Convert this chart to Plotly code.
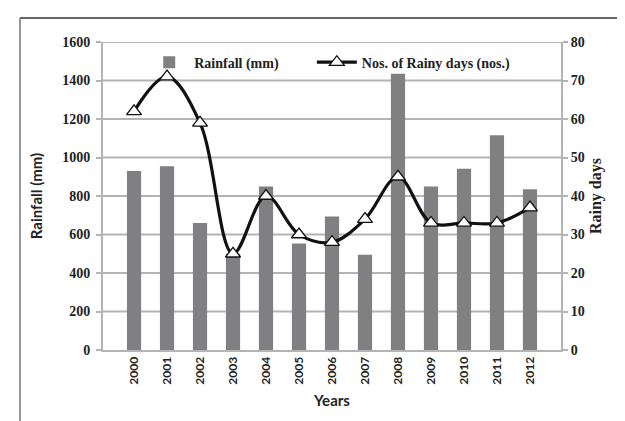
import plotly.graph_objects as go

years = ["2000", "2001", "2002", "2003", "2004", "2005", "2006", "2007",
         "2008", "2009", "2010", "2011", "2012"]
rainfall_mm = [930, 955, 660, 500, 850, 553, 694, 495, 1435, 850, 942, 1115, 835]
rainy_days = [62, 71, 59, 25, 40, 30, 28, 34, 45, 33, 33, 33, 37]

left_ticks = [0, 200, 400, 600, 800, 1000, 1200, 1400, 1600]
right_ticks = [0, 10, 20, 30, 40, 50, 60, 70, 80]

serif = "Liberation Serif"
sans = "Lato"
grid = "#b4b4b4"
txt = "#222222"

fig = go.Figure()
fig.add_trace(go.Bar(
    x=years, y=rainfall_mm, name="Rainfall (mm)",
    marker=dict(color="#808083", line=dict(width=0)),
    width=0.43, yaxis="y", legend="legend"))
fig.add_trace(go.Scatter(
    x=years, y=rainy_days, name="Nos. of Rainy days (nos.)",
    mode="lines+markers", yaxis="y2", legend="legend2",
    line=dict(color="#111111", width=3.2, shape="spline", smoothing=1.0),
    marker=dict(symbol="triangle-up", size=13, color="white",
                line=dict(color="#111111", width=1.3))))

# horizontal gridlines at the left-axis tick values
for v in left_ticks[1:]:
    fig.add_shape(type="line", xref="paper", yref="y", x0=0, x1=1, y0=v, y1=v,
                  line=dict(color=grid, width=2), layer="below")

legend_style = dict(orientation="h", y=0.985, xanchor="left", yanchor="top",
                    font=dict(family=serif, size=14, color=txt, weight="bold"),
                    bgcolor="rgba(0,0,0,0)", itemwidth=40)

fig.update_layout(
    width=625, height=421,
    margin=dict(l=95, r=72, t=34, b=79),
    paper_bgcolor="white", plot_bgcolor="white",
    showlegend=True,
    legend=dict(x=0.09, **legend_style),
    legend2=dict(x=0.456, **legend_style),
    bargap=0.57,
    xaxis=dict(
        type="category", showgrid=False, showline=True, linecolor=grid, linewidth=2,
        tickangle=-90, ticks="",
        tickfont=dict(family=sans, size=12, color=txt, weight="bold"),
        title=dict(text="Years", font=dict(family=sans, size=15, color=txt, weight="bold"),
                   standoff=12)),
    yaxis=dict(
        range=[0, 1600], tickvals=left_ticks, showgrid=False,
        showline=True, linecolor=grid, linewidth=2, ticks="outside", ticklen=5,
        tickcolor=grid, tickwidth=2, zeroline=False, ticklabelstandoff=3,
        tickfont=dict(family=serif, size=14, color=txt, weight="bold"),
        title=dict(text="Rainfall (mm)", font=dict(family=sans, size=15, color=txt, weight="bold"),
                   standoff=16)),
    yaxis2=dict(
        range=[0, 80], tickvals=right_ticks, overlaying="y", side="right",
        showgrid=False, showline=True, linecolor=grid, linewidth=2, ticks="outside",
        ticklen=5, tickcolor=grid, tickwidth=2, zeroline=False,
        tickfont=dict(family=serif, size=14, color=txt, weight="bold"),
        title=dict(text="Rainy days", font=dict(family=serif, size=16, color=txt, weight="bold"),
                   standoff=6)),
)

# outer frame (top and left edges visible)
fig.add_shape(type="line", xref="paper", yref="paper",
              x0=(12 - 95) / 458, x1=1.2, y0=(421 - 79 - 10) / 308, y1=(421 - 79 - 10) / 308,
              line=dict(color="#333333", width=1.5))
fig.add_shape(type="line", xref="paper", yref="paper",
              x0=(12 - 95) / 458, x1=(12 - 95) / 458, y0=(421 - 79 - 10) / 308, y1=-0.3,
              line=dict(color="#777777", width=1.5))

fig.write_html("out.html")
